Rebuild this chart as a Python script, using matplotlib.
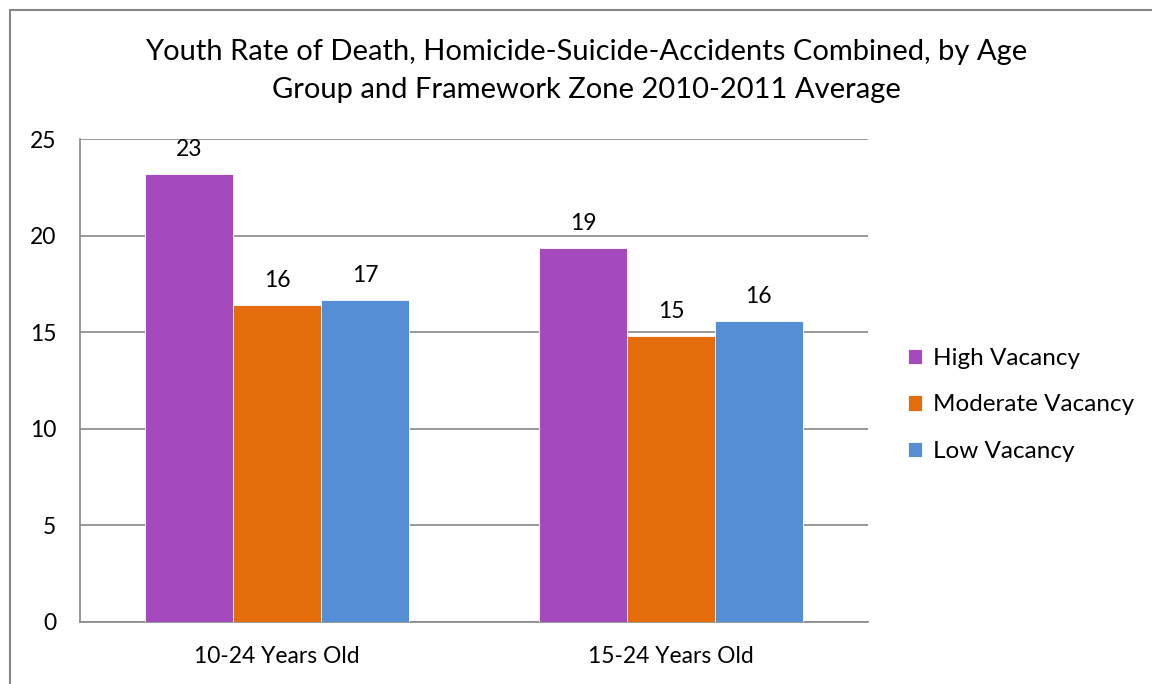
import numpy as np
import matplotlib.pyplot as plt
from matplotlib.patches import Rectangle

plt.rcParams['font.family'] = ['Lato', 'DejaVu Sans']

categories = ["10-24 Years Old", "15-24 Years Old"]
series = ["High Vacancy", "Moderate Vacancy", "Low Vacancy"]
high = [23.2, 19.35]
moderate = [16.4, 14.8]
low = [16.65, 15.57]
colors = ["#A54ABC", "#E46C0A", "#558ED5"]

fig = plt.figure(figsize=(11.52, 6.84), dpi=100)
ax = fig.add_axes([80 / 1152, 1 - 622 / 684, (868 - 80) / 1152, (622 - 139) / 684])

# outer chart border (cut off at right/bottom like the original)
fig.patches.append(Rectangle((10 / 1152, -0.05), 1.1, (684 - 10) / 684 + 0.05,
                             transform=fig.transFigure, fill=False,
                             edgecolor="#878787", linewidth=1.5))

x = np.arange(len(categories))
w = 0.223
for i, (vals, name) in enumerate(zip([high, moderate, low], series)):
    bars = ax.bar(x + (i - 1) * w, vals, w, color=colors[i], label=name,
                  edgecolor="white", linewidth=0.6, zorder=3)
    for b, v in zip(bars, vals):
        ax.annotate(f"{v:.0f}", (b.get_x() + b.get_width() / 2, v),
                    xytext=(0, 10), textcoords="offset points",
                    ha="center", va="bottom", fontsize=16.5)

ax.set_xlim(-0.5, 1.5)
ax.set_ylim(0, 25)
ax.set_yticks(range(0, 26, 5))
ax.set_xticks(x)
ax.set_xticklabels(categories)
ax.tick_params(axis="both", length=0, labelsize=16.5)
ax.tick_params(axis="y", pad=17)
ax.tick_params(axis="x", pad=17)
ax.yaxis.grid(True, color="#878787", linewidth=1.2, zorder=0)
for s in ["top", "right"]:
    ax.spines[s].set_visible(False)
for s in ["left", "bottom"]:
    ax.spines[s].set_color("#878787")
    ax.spines[s].set_linewidth(1.2)

fig.text(586 / 1152, 1 - 71 / 684,
         "Youth Rate of Death, Homicide-Suicide-Accidents Combined, by Age\nGroup and Framework Zone 2010-2011 Average",
         ha="center", va="center", fontsize=21, linespacing=1.6)

leg = fig.legend(loc="upper left", bbox_to_anchor=(886 / 1152, 1 - 326 / 684),
                 frameon=False, fontsize=17.5, handlelength=0.6, handleheight=0.6,
                 handletextpad=0.45, labelspacing=1.05)

fig.savefig("out.png", dpi=100)
